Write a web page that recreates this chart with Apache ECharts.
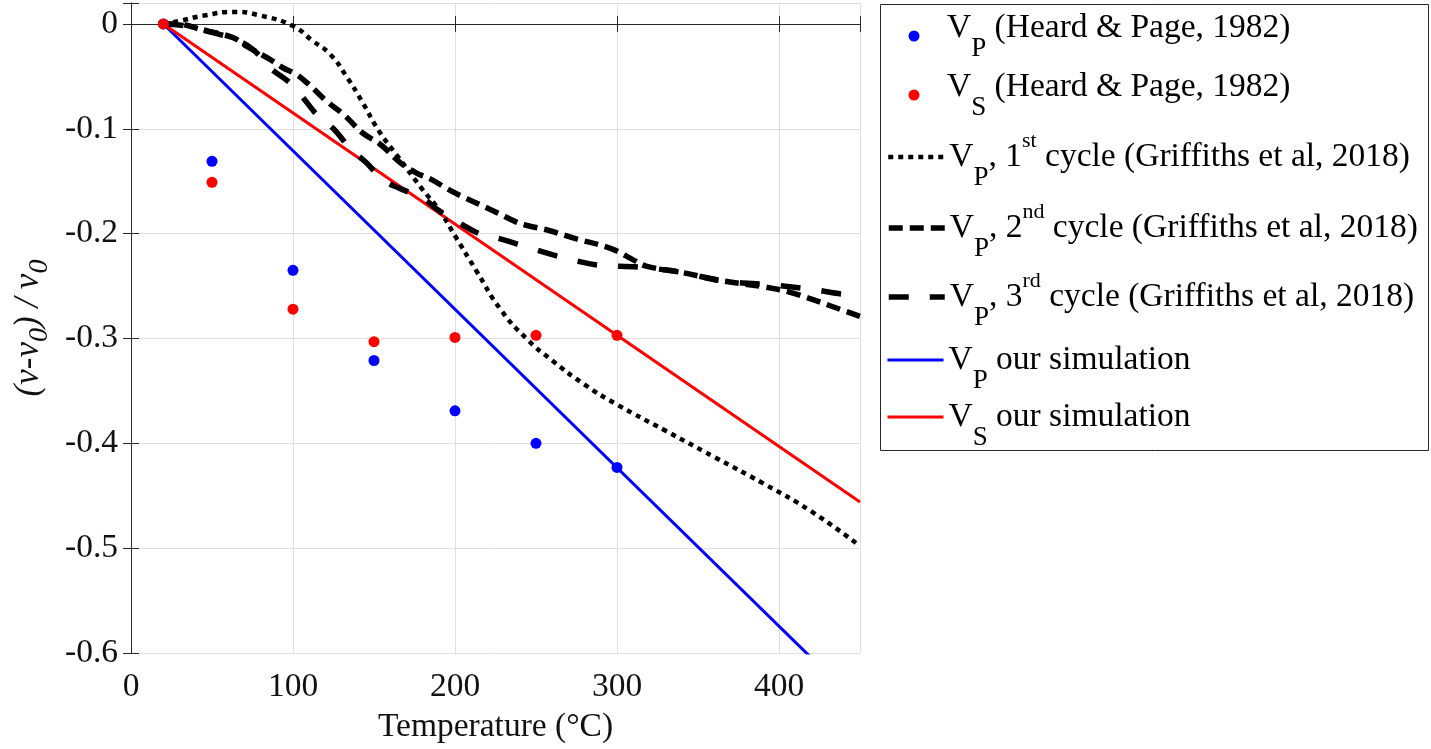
<!DOCTYPE html>
<html>
<head>
<meta charset="utf-8">
<script src="https://cdn.jsdelivr.net/npm/echarts@6/dist/echarts.min.js"></script>
<style>
html,body{margin:0;padding:0;background:#fff;}
#chart{width:1431px;height:749px;}
</style>
</head>
<body>
<div id="chart"></div>
<script>
// ---- data ----
const heardT = [20, 50, 100, 150, 200, 250, 300];
const vpHeard = [0, -0.131, -0.235, -0.321, -0.369, -0.400, -0.423];
const vsHeard = [0, -0.151, -0.272, -0.303, -0.299, -0.297, -0.297];

const cycle1T = [20,30,45,63,80,100,112,123,133,143,153,165,180,190,200,213,228,244,260,280,300,330,360,390,420,450];
const cycle1V = [0,0.003,0.008,0.0115,0.008,-0.002,-0.016,-0.029,-0.05,-0.075,-0.102,-0.127,-0.158,-0.177,-0.202,-0.235,-0.272,-0.3,-0.321,-0.344,-0.363,-0.388,-0.413,-0.438,-0.465,-0.498];

const cycle2T = [20,28,45,63,71,86,94,102,110,121,131,143,154,166,176,185,195,205,215,226,238,244,258,275,296,310,318,340,365,392,407,421,432,450];
const cycle2V = [0,0,-0.006,-0.013,-0.021,-0.034,-0.042,-0.048,-0.058,-0.074,-0.086,-0.104,-0.115,-0.132,-0.142,-0.148,-0.157,-0.165,-0.172,-0.18,-0.189,-0.192,-0.197,-0.205,-0.214,-0.225,-0.231,-0.237,-0.245,-0.251,-0.256,-0.263,-0.269,-0.279];

const cycle3T = [20,35,50,63,75,86,98,105,115,125,135,145,156,166,180,190,203,215,228,245,260,275,288,314,340,365,396,420,445,450];
const cycle3V = [0,-0.002,-0.008,-0.014,-0.024,-0.042,-0.056,-0.068,-0.087,-0.1,-0.118,-0.132,-0.149,-0.157,-0.166,-0.178,-0.19,-0.2,-0.205,-0.213,-0.22,-0.226,-0.23,-0.232,-0.237,-0.245,-0.249,-0.253,-0.258,-0.254];

const simT = [20, 450];
const vpSim = [0, -0.650];
const vsSim = [0, -0.456];

const xTicks = [0, 100, 200, 300, 400];
const yTicks = [0, -0.1, -0.2, -0.3, -0.4, -0.5, -0.6];

const seriesNames = [
  'VP (Heard & Page, 1982)',
  'VS (Heard & Page, 1982)',
  'VP, 1st cycle (Griffiths et al, 2018)',
  'VP, 2nd cycle (Griffiths et al, 2018)',
  'VP, 3rd cycle (Griffiths et al, 2018)',
  'VP our simulation',
  'VS our simulation'
];
const legendRich = [
  '{md|V}{subd|P}{md| (Heard & Page, 1982)}',
  '{md|V}{subd|S}{md| (Heard & Page, 1982)}',
  '{m|V}{sub|P}{m|, 1}{sup|st}{m| cycle (Griffiths et al, 2018)}',
  '{m|V}{sub|P}{m|, 2}{sup|nd}{m| cycle (Griffiths et al, 2018)}',
  '{m|V}{sub|P}{m|, 3}{sup|rd}{m| cycle (Griffiths et al, 2018)}',
  '{m|V}{sub|P}{m| our simulation}',
  '{m|V}{sub|S}{m| our simulation}'
];
const legendIconCenters = [28, 87, 157, 228, 297, 360, 417];

// ---- build ----
const FONT = 'Liberation Serif';
const FS = 33.5;
const zip = (a, b) => a.map((v, i) => [v, b[i]]);

const rich = {
  m:    {fontFamily: FONT, fontSize: FS, lineHeight: 68, color: '#000', verticalAlign: 'middle'},
  sub:  {fontFamily: FONT, fontSize: 27, lineHeight: 27, color: '#000', verticalAlign: 'bottom'},
  sup:  {fontFamily: FONT, fontSize: 22, lineHeight: 22, color: '#000', verticalAlign: 'top', padding: [7, 0, 0, 0]},
  md:   {fontFamily: FONT, fontSize: FS, lineHeight: 68, color: '#000', verticalAlign: 'middle', padding: [0, 0, 16, 0]},
  subd: {fontFamily: FONT, fontSize: 27, lineHeight: 27, color: '#000', verticalAlign: 'bottom', padding: [0, 0, 8, 0]}
};

const iconWidths = [0, 0, 4.5, 5.5, 5.5, 3, 3];
const legends = seriesNames.map((n, i) => {
  const isDot = i < 2;
  const hasSup = i >= 2 && i <= 4;
  const l = {
    data: [n],
    left: isDot ? 908.5 : 886,
    top: legendIconCenters[i] - (hasSup ? 34 : 17),
    orient: 'vertical',
    padding: 0,
    itemWidth: 56,
    itemHeight: isDot ? 11 : 14,
    itemGap: 0,
    selectedMode: false,
    formatter: () => legendRich[i],
    textStyle: {rich: rich}
  };
  if (!isDot) {
    l.itemStyle = {opacity: 0, color: 'rgba(0,0,0,0)', borderWidth: 0};
    l.lineStyle = {width: iconWidths[i]};
  }
  return l;
});

const axisColor = '#262626';
const labelStyle = {fontFamily: FONT, fontSize: FS, color: '#111'};

const option = {
  animation: false,
  backgroundColor: '#fff',
  grid: {left: 131, right: 571, top: 3, bottom: 91, containLabel: false},
  legend: legends,
  graphic: [{
    type: 'rect',
    shape: {x: 880.5, y: 4.5, width: 548, height: 446},
    style: {fill: 'none', stroke: axisColor, lineWidth: 1},
    silent: true
  }],
  xAxis: [{
    type: 'value', min: 0, max: 450, interval: 100, position: 'bottom',
    axisLine: {show: true, lineStyle: {color: axisColor, width: 1}},
    axisTick: {show: true, inside: true, length: 8, lineStyle: {color: axisColor}},
    axisLabel: Object.assign({margin: 17, formatter: v => xTicks.includes(Math.round(v)) ? String(Math.round(v)) : ''}, labelStyle),
    splitLine: {show: true, lineStyle: {color: '#dfdfdf', width: 1}},
    name: 'Temperature (°C)', nameLocation: 'middle', nameGap: 57,
    nameTextStyle: {fontFamily: FONT, fontSize: FS, color: '#111'}
  }, {
    type: 'value', min: 0, max: 450, interval: 100, position: 'top',
    axisLine: {show: true, lineStyle: {color: axisColor, width: 1}},
    axisTick: {show: true, inside: true, length: 8, lineStyle: {color: axisColor}},
    axisLabel: {show: false}, splitLine: {show: false}
  }],
  yAxis: [{
    type: 'value', min: -0.6, max: 0.02, interval: 0.1, position: 'left',
    axisLine: {show: true, lineStyle: {color: axisColor, width: 1}},
    axisTick: {show: true, inside: true, length: 8, lineStyle: {color: axisColor}},
    axisLabel: Object.assign({margin: 13, formatter: v => {
      const r = Math.round(v * 10) / 10;
      return yTicks.some(t => Math.abs(t - v) < 1e-6) ? String(r) : '';
    }}, labelStyle),
    splitLine: {show: true, lineStyle: {color: '#dfdfdf', width: 1}},
    name: '{a|(v-v}{s|0}{a|) / v}{s|0}',
    nameLocation: 'middle', nameGap: 76, nameRotate: 90,
    nameTextStyle: {rich: {
      a: {fontFamily: FONT, fontStyle: 'italic', fontSize: 35, lineHeight: 50, color: '#111', verticalAlign: 'middle'},
      s: {fontFamily: FONT, fontStyle: 'italic', fontSize: 28, lineHeight: 26, color: '#111', verticalAlign: 'bottom'}
    }}
  }, {
    type: 'value', min: -0.6, max: 0.02, interval: 0.1, position: 'right',
    axisLine: {show: true, lineStyle: {color: axisColor, width: 1}},
    axisTick: {show: true, inside: true, length: 8, lineStyle: {color: axisColor}},
    axisLabel: {show: false}, splitLine: {show: false}
  }],
  series: [
    {name: seriesNames[5], type: 'line', data: zip(simT, vpSim), symbol: 'none', z: 3,
     lineStyle: {color: '#0000ff', width: 3}, itemStyle: {color: '#0000ff'}},
    {name: seriesNames[6], type: 'line', data: zip(simT, vsSim), symbol: 'none', z: 3,
     lineStyle: {color: '#ff0000', width: 3}, itemStyle: {color: '#ff0000'}},
    {name: seriesNames[2], type: 'line', data: zip(cycle1T, cycle1V), symbol: 'none', smooth: 0.5, z: 4,
     lineStyle: {color: '#000', width: 4.5, type: [5, 5], cap: 'butt'}, itemStyle: {color: '#000'}},
    {name: seriesNames[3], type: 'line', data: zip(cycle2T, cycle2V), symbol: 'none', smooth: 0.4, z: 4,
     lineStyle: {color: '#000', width: 5.5, type: [14, 7], cap: 'butt'}, itemStyle: {color: '#000'}},
    {name: seriesNames[4], type: 'line', data: zip(cycle3T, cycle3V), symbol: 'none', smooth: 0.4, z: 4,
     lineStyle: {color: '#000', width: 5.5, type: [20, 21], cap: 'butt'}, itemStyle: {color: '#000'}},
    {name: seriesNames[0], type: 'scatter', data: zip(heardT, vpHeard), symbol: 'circle', symbolSize: 11, z: 5,
     itemStyle: {color: '#0000ff', opacity: 1}},
    {name: seriesNames[1], type: 'scatter', data: zip(heardT, vsHeard), symbol: 'circle', symbolSize: 11, z: 6,
     itemStyle: {color: '#ff0000', opacity: 1}}
  ]
};

const chart = echarts.init(document.getElementById('chart'), null, {renderer: 'canvas'});
chart.setOption(option);
</script>
</body>
</html>
